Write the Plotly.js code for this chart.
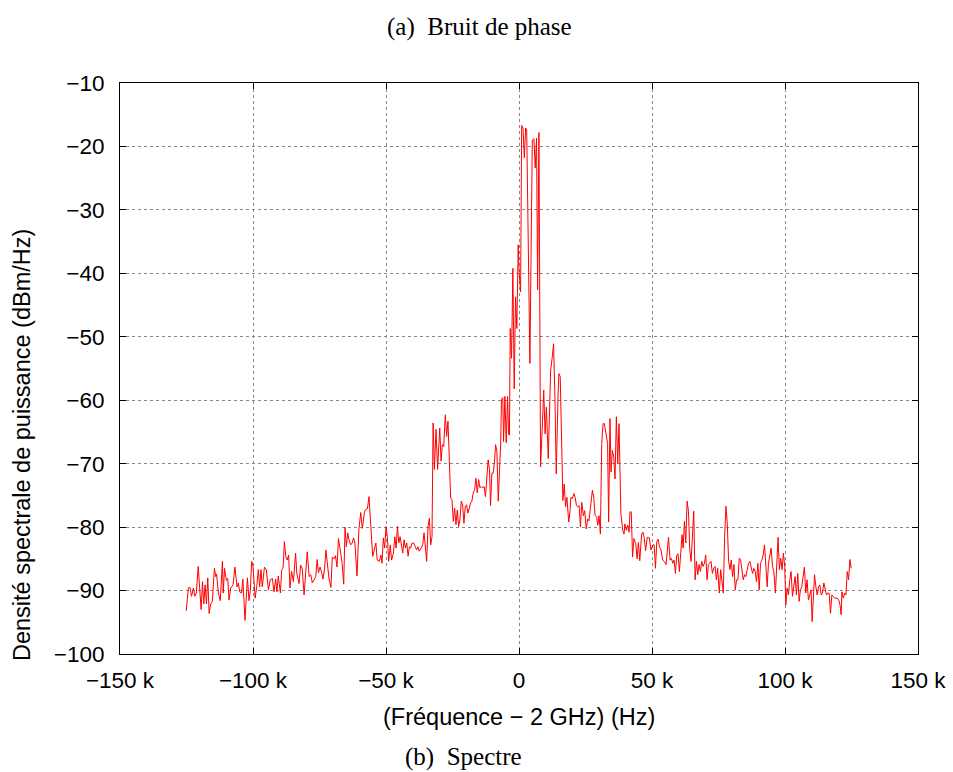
<!DOCTYPE html>
<html>
<head>
<meta charset="utf-8">
<script src="https://cdn.plot.ly/plotly-3.0.1.min.js"></script>
<style>html,body{margin:0;padding:0;background:#fff;}#chart{width:953px;height:772px;}</style>
</head>
<body>
<div id="chart"></div>
<script>
// Frequency offsets (kHz)
const freqK = [
-125.1,-124.3,-123.7,-123.1,-122.4,-121.9,-121.3,-120.6,-119.5,-119.0,-118.5,-118.0,-117.5,-117.0,-116.5,-115.9,-115.3,-114.5,-114.0,-113.7,-113.0,-112.3,-111.5,-111.2,-110.7,-110.0,-109.5,-109.0,-108.4,-107.5,-106.8,-106.0,-105.5,-105.0,-104.3,-103.8,-103.0,-102.1,-101.5,-101.0,-100.5,-100.0,-99.2,-98.6,-98.0,-97.5,-97.0,-96.5,-95.7,-95.0,-94.2,-93.5,-92.7,-92.1,-91.5,-91.0,-90.5,-89.7,-89.2,-88.7,-88.2,-87.7,-87.1,-86.6,-86.1,-85.5,-84.8,-84.5,-84.0,-83.5,-82.7,-82.1,-81.5,-80.8,-80.2,-79.6,-78.9,-78.3,-77.7,-77.1,-76.4,-75.9,-75.4,-74.8,-74.2,-73.7,-73.1,-72.6,-71.9,-71.4,-70.7,-70.2,-69.5,-69.0,-68.4,-67.9,-67.2,-66.5,-65.9,-65.4,-64.9,-64.4,-63.9,-63.3,-62.7,-62.2,-61.7,-60.9,-60.2,-59.5,-58.9,-58.1,-57.6,-57.0,-56.4,
-55.6,-55.0,-54.4,-53.8,-53.3,-52.5,-51.9,-51.5,-51.0,-50.5,-50.0,-49.5,-49.0,-48.4,-47.9,-47.2,-46.7,-46.2,-45.7,-45.2,-44.7,-44.2,-43.7,-43.2,-42.7,-42.2,-41.7,-41.2,-40.7,-40.2,-39.6,-39.0,-38.5,-38.0,-37.5,-36.8,-36.2,-35.7,-35.2,-34.7,-34.2,-33.7,-33.2,-32.7,-32.3,-31.8,-31.2,-30.6,-29.8,-29.3,-28.8,-28.3,-27.7,-27.2,-26.7,-26.2,-25.7,-25.2,-24.7,-24.2,-23.7,-23.2,-22.7,-22.2,-21.7,-21.2,-20.7,-20.2,-19.7,-19.2,-18.7,-18.2,-17.7,-17.2,-16.7,-16.2,-15.7,-15.2,-14.7,-14.2,-13.6,-13.1,-12.6,-12.1,-11.6,-11.1,-10.7,-10.2,-9.7,-9.2,-8.8,-8.3,-7.8,-7.3,-6.9,-6.6,-6.1,-5.8,-5.3,-4.8,-4.3,-3.9,
-3.6,-3.3,-2.8,-2.3,-1.8,-1.3,-0.8,-0.3,
0.0,0.6,1.0,1.5,2.0,2.5,2.9,4.1,5.0,5.6,6.1,6.6,7.0,7.5,8.1,8.8,9.3,9.8,10.3,11.0,11.9,12.5,13.0,13.5,14.0,14.7,15.0,15.5,16.0,16.5,17.0,17.5,18.0,18.7,19.2,19.5,20.1,20.6,21.1,21.6,22.1,22.6,23.1,23.6,24.2,24.7,25.3,25.8,26.3,26.9,27.6,28.1,28.6,29.2,29.6,30.1,30.6,31.1,31.6,32.1,32.8,33.3,33.7,34.2,34.6,35.1,35.6,36.1,36.6,37.1,37.6,38.3,39.0,39.5,39.8,40.4,40.9,41.4,41.7,42.2,42.7,43.2,43.9,44.4,44.9,45.4,46.1,46.6,47.1,47.6,48.2,
49.0,49.6,50.3,50.8,51.3,51.8,52.3,52.8,53.4,54.0,54.6,55.3,55.7,56.2,56.8,57.3,57.8,58.3,58.8,59.3,59.8,60.3,60.8,61.3,61.7,62.2,62.7,63.2,63.7,64.2,64.7,65.2,65.7,66.2,66.7,67.2,67.7,68.2,68.7,69.2,69.7,70.2,70.7,71.2,71.7,72.2,72.7,73.2,73.7,74.2,74.7,75.3,75.8,76.3,76.8,77.3,77.8,78.3,78.8,79.3,79.8,80.3,80.8,81.3,81.8,82.3,82.8,83.3,83.8,84.3,84.8,85.3,85.8,86.3,86.8,87.3,87.8,88.3,88.8,89.3,89.8,90.3,90.8,91.3,91.8,92.3,92.8,93.3,93.8,94.3,94.8,95.3,95.8,96.4,96.9,97.4,97.9,98.4,98.9,99.4,99.9,100.3,100.8,101.3,101.8,102.3,102.8,103.3,103.8,104.3,104.8,105.3,105.8,106.3,106.8,107.3,107.8,108.3,108.8,109.3,109.8,110.2,110.6,111.1,111.6,112.1,112.6,113.1,113.6,114.1,114.6,115.1,115.6,116.1,116.6,117.1,117.6,118.1,118.7,119.2,119.7,120.2,120.7,121.1,121.4,121.9,122.4,122.9,123.4,123.9,124.4,124.9
];
// Power spectral density (dBm/Hz)
const psdDbm = [
-93.2,-89.6,-89.5,-90.9,-89.6,-90.9,-90.4,-86.2,-93.0,-88.6,-92.1,-89.1,-92.1,-88.0,-93.6,-92.1,-91.7,-86.5,-87.8,-87.4,-90.4,-91.6,-85.4,-90.4,-86.5,-88.4,-88.1,-91.5,-89.6,-89.1,-86.3,-89.4,-88.8,-90.2,-90.4,-88.2,-94.7,-88.0,-91.6,-90.0,-85.4,-86.2,-91.2,-89.4,-86.7,-89.4,-86.7,-89.4,-86.3,-86.7,-89.9,-88.3,-88.1,-90.2,-88.2,-90.2,-87.7,-90.4,-86.7,-86.5,-82.3,-84.6,-85.2,-84.4,-89.6,-87.0,-88.6,-87.0,-84.1,-87.4,-88.9,-86.0,-86.5,-90.7,-87.8,-83.9,-87.8,-87.5,-88.8,-88.3,-87.8,-85.1,-87.2,-86.3,-87.1,-88.2,-86.6,-83.6,-87.1,-88.2,-89.5,-84.7,-85.0,-84.5,-86.3,-81.8,-83.6,-85.7,-89.0,-80.0,-83.1,-80.9,-82.0,-82.8,-82.5,-81.7,-82.5,-87.7,-80.4,-77.7,-80.2,-77.6,-77.2,-77.1,-75.2,
-81.5,-84.6,-83.6,-82.5,-85.2,-85.4,-84.4,-85.7,-81.7,-83.3,-79.9,-81.5,-85.4,-82.8,-85.2,-84.1,-81.5,-83.3,-79.9,-82.5,-81.5,-82.8,-84.1,-82.0,-83.3,-82.5,-84.6,-83.1,-83.3,-82.5,-82.5,-83.1,-83.6,-83.1,-83.8,-83.3,-82.8,-80.9,-83.1,-85.4,-79.9,-78.6,-82.8,-81.5,-63.6,-70.9,-64.6,-70.9,-64.4,-69.6,-67.0,-67.3,-62.3,-65.7,-63.3,-70.9,-75.4,-75.7,-79.1,-77.0,-79.6,-77.3,-79.9,-78.8,-75.9,-76.5,-79.4,-76.7,-76.5,-77.8,-76.7,-76.2,-75.9,-74.6,-74.1,-72.3,-74.6,-72.5,-73.8,-73.6,-73.8,-73.6,-75.2,-72.5,-69.4,-70.9,-76.6,-71.5,-71.5,-69.6,-67.0,-68.1,-75.9,-70.9,-67.0,-59.9,-59.6,-66.5,-59.4,-66.7,-59.4,-65.4,
-65.5,-48.7,-53.4,-39.2,-58.2,-43.7,-48.7,-35.5,
-39.5,-42.9,-16.7,-17.1,-21.8,-17.1,-17.4,-54.2,-19.0,-18.8,-23.4,-18.7,-42.6,-17.8,-70.5,-63.7,-58.4,-65.3,-61.1,-69.2,-55.3,-53.2,-51.1,-59.5,-71.6,-59.0,-55.8,-56.3,-66.3,-75.8,-73.2,-76.8,-75.3,-79.2,-77.4,-75.3,-75.5,-74.7,-75.3,-76.6,-76.8,-76.6,-80.0,-76.1,-78.2,-77.4,-80.3,-78.7,-79.0,-76.6,-74.2,-75.3,-78.2,-78.4,-79.7,-78.2,-81.1,-66.8,-63.7,-63.7,-65.8,-66.8,-79.2,-62.9,-71.3,-67.9,-68.9,-72.4,-62.6,-70.0,-63.7,-77.9,-80.5,-81.1,-79.5,-80.5,-79.7,-80.8,-77.6,-77.6,-84.7,-81.8,-82.6,-85.0,-82.4,-85.3,-81.1,-80.8,-81.8,-83.7,-81.6,
-81.7,-83.6,-82.8,-82.8,-86.5,-82.3,-81.9,-83.1,-83.6,-85.2,-85.4,-85.9,-84.4,-81.6,-85.2,-84.9,-85.7,-85.2,-87.3,-84.4,-84.2,-87.0,-84.1,-81.2,-83.3,-79.1,-82.5,-75.9,-77.5,-83.6,-85.4,-80.2,-77.5,-88.3,-85.4,-87.5,-85.9,-87.0,-85.4,-86.2,-85.7,-84.4,-88.3,-85.9,-85.7,-85.4,-87.3,-86.5,-86.2,-88.3,-86.5,-90.4,-86.7,-88.3,-90.4,-81.5,-76.7,-79.4,-85.4,-86.7,-85.2,-87.8,-85.9,-89.9,-88.3,-88.3,-84.9,-85.1,-87.0,-88.3,-87.5,-87.8,-86.7,-85.7,-85.4,-86.2,-87.3,-86.5,-87.0,-88.6,-85.7,-89.9,-85.7,-85.2,-84.4,-82.8,-86.5,-89.4,-85.7,-84.4,-83.3,-86.2,-87.0,-90.4,-85.2,-81.6,-86.7,-84.9,-86.7,-84.1,-86.2,-92.3,-89.6,-90.7,-88.3,-87.0,-90.9,-89.6,-87.8,-90.7,-87.3,-91.7,-89.9,-89.4,-88.1,-86.3,-90.4,-88.3,-91.5,-90.4,-89.9,-94.9,-90.7,-87.5,-89.4,-90.7,-89.4,-89.1,-90.7,-90.4,-88.8,-89.6,-90.7,-90.4,-90.4,-93.6,-90.7,-90.9,-91.2,-91.2,-91.2,-91.5,-92.3,-93.8,-90.2,-91.2,-90.4,-90.7,-87.0,-88.3,-85.1,-86.5
];
const xTickVals = [-150000,-100000,-50000,0,50000,100000,150000];
const xTickText = ['\u2212150 k','\u2212100 k','\u221250 k','0','50 k','100 k','150 k'];
const yTickVals = [-100,-90,-80,-70,-60,-50,-40,-30,-20,-10];
const yTickText = ['\u2212100','\u221290','\u221280','\u221270','\u221260','\u221250','\u221240','\u221230','\u221220','\u221210'];

const freqHz = freqK.map(k => k * 1000);

const sans = 'Liberation Sans, Arial, Helvetica, sans-serif';
const serif = 'Liberation Serif, Times New Roman, serif';

const trace = {
  x: freqHz, y: psdDbm, type: 'scatter', mode: 'lines',
  line: {color: '#ff0000', width: 1}, hoverinfo: 'skip'
};

const axisCommon = {
  showgrid: true, gridcolor: '#888888', gridwidth: 1, griddash: 'dot',
  zeroline: false, showline: true, linecolor: '#000', linewidth: 1,
  mirror: 'allticks', ticks: 'inside', ticklen: 6, tickcolor: '#000',
  tickfont: {family: sans, size: 22.5, color: '#000'}
};

const layout = {
  width: 953, height: 772,
  margin: {l: 120, r: 35, t: 83, b: 118},
  paper_bgcolor: '#fff', plot_bgcolor: '#fff',
  showlegend: false,
  xaxis: Object.assign({}, axisCommon, {
    range: [-150000, 150000], tickmode: 'array', tickvals: xTickVals, ticktext: xTickText,
    ticklabelstandoff: 6
  }),
  yaxis: Object.assign({}, axisCommon, {
    range: [-100, -10], tickmode: 'array', tickvals: yTickVals, ticktext: yTickText,
    ticklabelstandoff: 10
  }),
  annotations: [
    {text: '(a)  Bruit de phase', xref: 'paper', yref: 'paper', x: (479-120)/798, y: (654-27)/571,
     xanchor: 'center', yanchor: 'middle', showarrow: false, font: {family: serif, size: 25, color: '#000'}},
    {text: '(b)  Spectre', xref: 'paper', yref: 'paper', x: (463-120)/798, y: (654-757)/571,
     xanchor: 'center', yanchor: 'middle', showarrow: false, font: {family: serif, size: 25, color: '#000'}},
    {text: '(Fréquence \u2212 2 GHz) (Hz)', xref: 'paper', yref: 'paper', x: 0.5, y: (654-717)/571,
     xanchor: 'center', yanchor: 'middle', showarrow: false, font: {family: sans, size: 23.5, color: '#000'}},
    {text: 'Densité spectrale de puissance (dBm/Hz)', xref: 'paper', yref: 'paper', x: (22-120)/798, y: (654-445)/571,
     xanchor: 'center', yanchor: 'middle', textangle: -90, showarrow: false, font: {family: sans, size: 23.5, color: '#000'}}
  ]
};

Plotly.newPlot('chart', [trace], layout, {displayModeBar: false, staticPlot: true});
</script>
</body>
</html>
